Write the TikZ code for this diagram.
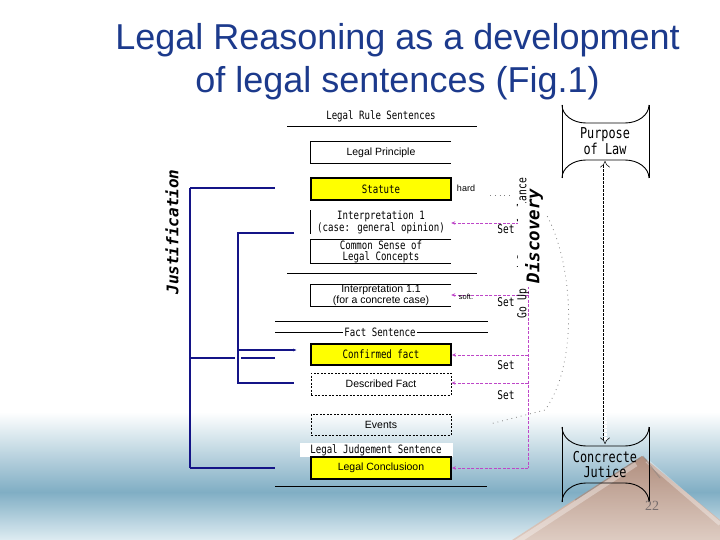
\documentclass[tikz,border=0pt]{standalone}
\usepackage{fontspec}
\setmainfont{Liberation Sans}
\newfontfamily\gothic[FakeStretch=0.79]{DejaVu Sans Mono}
\newfontfamily\djmono{DejaVu Sans Mono}
\newfontfamily\serifnum{Liberation Serif}
\usetikzlibrary{arrows.meta}
\definecolor{titleblue}{RGB}{28,58,140}
\definecolor{navy}{RGB}{20,20,135}
\definecolor{magen}{RGB}{190,70,200}
\definecolor{boxyellow}{RGB}{255,255,0}
\definecolor{bandblue}{RGB}{128,174,196}
\definecolor{bandlow}{RGB}{222,236,242}
\definecolor{mtop}{RGB}{176,142,126}
\definecolor{mbot}{RGB}{222,204,194}
\definecolor{numgray}{RGB}{120,110,110}
\tikzset{
  gtext/.style={font=\gothic\fontsize{11.5}{11}\selectfont, align=center},
  stext/.style={font=\fontsize{10.5}{11}\selectfont, align=center},
  rbox/.style={minimum width=140pt, inner sep=0pt, align=center},
  ybox/.style={rbox, draw, line width=1.8pt, fill=boxyellow},
  wbox/.style={rbox, draw, line width=0.8pt},
  dbox/.style={rbox, draw, line width=0.8pt, dash pattern=on 2pt off 1.5pt},
  hline/.style={line width=0.8pt},
  just/.style={navy, line width=1.3pt},
  justthick/.style={navy, line width=2.4pt},
  magline/.style={magen, line width=0.9pt, dash pattern=on 3pt off 1.5pt},
  setarrow/.style={magline, -{Stealth[length=4pt,width=3.5pt]}},
  scroll/.style={line width=0.9pt},
  dotpath/.style={gray, line width=0.8pt, dash pattern=on 0.8pt off 4pt},
  setlabel/.style={font=\gothic\fontsize{12}{12}\selectfont},
}
\newcommand\scrollshape[6]{%
  \draw[scroll] (#1,#3) -- (#1,#4);
  \draw[scroll] (#2,#3) -- (#2,#4);
  \draw[scroll] (#1,#3) .. controls (#1,#3+0.55*#5) and (#1+0.45*#6,#3+#5) .. (#1+#6,#3+#5)
     -- (#2-#6,#3+#5) .. controls (#2-0.45*#6,#3+#5) and (#2,#3+0.55*#5) .. (#2,#3);
  \draw[scroll] (#1,#4) .. controls (#1,#4-0.55*#5) and (#1+0.45*#6,#4-#5) .. (#1+#6,#4-#5)
     -- (#2-#6,#4-#5) .. controls (#2-0.45*#6,#4-#5) and (#2,#4-0.55*#5) .. (#2,#4);
}
\begin{document}
\begin{tikzpicture}[x=1pt,y=-1pt]
\useasboundingbox (0,0) rectangle (720,540);
\fill[white] (0,0) rectangle (720,540);
% background band
\shade[top color=white, bottom color=bandblue] (0,412) rectangle (720,492);
\shade[top color=bandblue, bottom color=bandlow] (0,492) rectangle (720,540);
% mountain
\shade[top color=mtop, bottom color=mbot] (512,540) -- (642,456) -- (720,520) -- (720,540) -- cycle;
\draw[white, line width=5pt, opacity=0.35] (636,464) -- (512,545);
\draw[gray, line width=1.2pt, opacity=0.5] (640,458) -- (575,500);
\draw[white, line width=4pt, opacity=0.35] (647,461) -- (720,524);
\draw[gray, line width=1pt, opacity=0.45] (643,456) -- (660,478);

% title
\node[font=\fontsize{36}{36}\selectfont, text=titleblue] (title1) at (397.5,40) {Legal Reasoning as a development};
\node[font=\fontsize{36}{36}\selectfont, text=titleblue] (title2) at (397.5,83) {of legal sentences (Fig.1)};

% headers and rules
\node[gtext] (rulehead) at (381,116) {Legal Rule Sentences};
\coordinate (r1a) at (287,126); \coordinate (r1b) at (477,126);
\draw[hline] (r1a) -- (r1b);
\coordinate (r2a) at (287,273); \coordinate (r2b) at (477,273);
\draw[hline] (r2a) -- (r2b);
\coordinate (r3a) at (275,321); \coordinate (r3b) at (488,321);
\draw[hline] (r3a) -- (r3b);
\coordinate (r4a) at (275,332); \coordinate (r4b) at (488,332);
\draw[hline] (r4a) -- (r4b);
\node[gtext, fill=white, inner sep=1pt] (facthead) at (380,332) {Fact Sentence};
\coordinate (r5a) at (275,486); \coordinate (r5b) at (487,486);
\draw[hline] (r5a) -- (r5b);

% boxes
\node[rbox, stext, minimum height=21pt] (lp) at (381,152.5) {Legal Principle};
\draw[hline] (lp.north east) -- (lp.north west) -- (lp.south west) -- (lp.south east);
\node[ybox, gtext, minimum height=22pt] (statute) at (381,189) {Statute};
\node[rbox, gtext, minimum height=22pt] (interp1) at (381,222) {Interpretation 1\\(case: general opinion)};
\draw[hline] (interp1.north west) -- (interp1.south west);
\node[rbox, gtext, minimum height=23pt] (common) at (381,251.5) {Common Sense of\\Legal Concepts};
\draw[hline] (common.north east) -- (common.north west) -- (common.south west) -- (common.south east);
\node[rbox, stext, minimum height=21pt] (interp11) at (381,295.5) {Interpretation 1.1\\(for a concrete case)};
\draw[hline] (interp11.north east) -- (interp11.north west) -- (interp11.south west) -- (interp11.south east);
\node[ybox, gtext, minimum height=21pt] (confirmed) at (381,354.5) {Confirmed fact};
\node[dbox, stext, minimum height=22pt] (described) at (381,384) {Described Fact};
\node[dbox, stext, minimum height=21pt] (events) at (381,424.5) {Events};
\node[gtext, fill=white, minimum width=153pt, minimum height=14pt, inner sep=0pt] (judghead) at (376,450) {Legal Judgement Sentence};
\node[ybox, stext, minimum height=22pt] (conclusion) at (381,468) {Legal Conclusioon};

% justification lines
\node[font=\djmono\bfseries\itshape\fontsize{16}{16}\selectfont, rotate=90] (justif) at (172,232) {Justification};
\coordinate (jo1) at (275,188); \coordinate (jo2) at (190,188);
\coordinate (jo3) at (190,468); \coordinate (jo4) at (275,468);
\coordinate (jm1) at (190,358); \coordinate (jm2) at (235,358);
\coordinate (jm3) at (241,358); \coordinate (jm4) at (275,358);
\coordinate (ji1) at (294,233); \coordinate (ji2) at (238,233);
\coordinate (ji3) at (238,383); \coordinate (ji4) at (294,383);
\coordinate (ji5) at (238,350); \coordinate (ji6) at (297,350);
\draw[just] (jo2) -- (jo3);
\draw[justthick] (jo2) -- (jo1);
\draw[justthick] (jo3) -- (jo4);
\draw[justthick] (jm1) -- (jm2);
\draw[justthick] (jm3) -- (jm4);
\draw[just] (ji1) -- (ji2) -- (ji3) -- (ji4);
\draw[just, -{Latex[length=4pt,width=3pt]}] (ji5) -- (ji6);

% magenta set arrows
\coordinate (m1) at (528,223); \coordinate (m2) at (528,295);
\coordinate (m3) at (528,355); \coordinate (m4) at (528,383);
\coordinate (m5) at (528,468);
\draw[magline] (m1) -- (m5);
\draw[setarrow] (m1) -- (m1 -| interp1.east);
\draw[setarrow] (m2) -- (m2 -| interp11.east);
\draw[setarrow] (m3) -- (m3 -| confirmed.east);
\draw[setarrow] (m4) -- (m4 -| described.east);
\draw[setarrow] (m5) -- (m5 -| conclusion.east);
\node[setlabel] (set1) at (506,229) {Set};
\node[setlabel] (set2) at (506,302) {Set};
\node[setlabel] (set3) at (506,365) {Set};
\node[setlabel] (set4) at (506,395) {Set};
\node[font=\fontsize{9}{9}\selectfont] (hard) at (466,188) {hard};
\node[font=\fontsize{7.5}{7.5}\selectfont] (soft) at (466,297) {soft.};

% dotted discovery traces
\coordinate (d1) at (490,195); \coordinate (d2) at (510,195);
\draw[dotpath] (d1) -- (d2);
\coordinate (d3) at (545,212); \coordinate (d4) at (545,410); \coordinate (d5) at (490,424);
\draw[dotpath] (d3) .. controls (575,265) and (578,365) .. (d4) -- (d5);

% discovery
\node[font=\gothic\fontsize{12.3}{10}\selectfont, rotate=90] (glance) at (523,248) {Go Up and Down of glance};
\fill[white] (518,203) rectangle (546,287);
\node[font=\djmono\bfseries\itshape\fontsize{17.5}{17.5}\selectfont, rotate=90, inner sep=0.5pt] (discovery) at (534,236) {Discovery};

% purpose of law / concrete justice
\scrollshape{562}{649}{105}{178}{18}{24}
\node[gtext, font=\gothic\fontsize{15}{14}\selectfont] (purpose) at (605,141) {Purpose\\of Law};
\scrollshape{562}{649}{427}{502}{19}{24}
\node[gtext, font=\gothic\fontsize{15}{15}\selectfont] (justice) at (605,464.5) {Concrecte\\Jutice};
\coordinate (pb) at (605,161); \coordinate (jt) at (605,444);
\draw[double, double distance=3pt, line width=0.5pt, dash pattern=on 3pt off 1pt, {Implies}-{Implies}] (pb) -- (jt);

% slide number
\node[font=\serifnum\fontsize{14}{14}\selectfont, text=numgray] (num) at (652,506) {22};
\end{tikzpicture}
\end{document}
